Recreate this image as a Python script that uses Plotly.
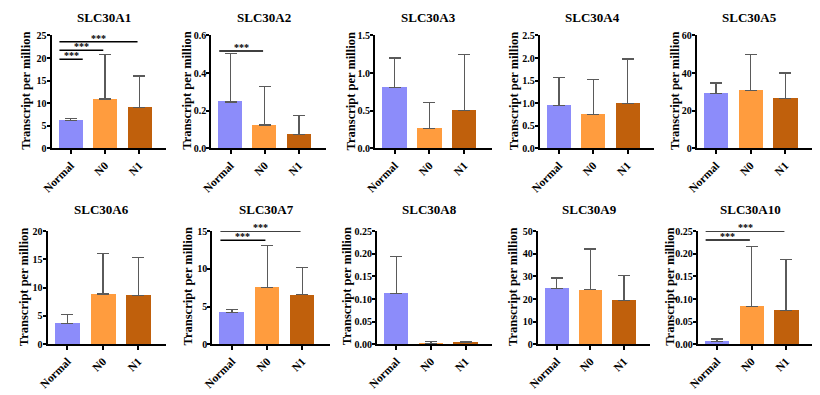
import plotly.graph_objects as go

# Page body has an 8px default margin; figure sized to fill the rest of the window
PAGE_OFF = 8
W, H = 820 - PAGE_OFF, 395 - PAGE_OFF

genes = ["SLC30A1", "SLC30A2", "SLC30A3", "SLC30A4", "SLC30A5",
         "SLC30A6", "SLC30A7", "SLC30A8", "SLC30A9", "SLC30A10"]
groups = ["Normal", "N0", "N1"]

means = [
    [6.2, 10.9, 9.1],
    [0.247, 0.124, 0.074],
    [0.81, 0.26, 0.50],
    [0.955, 0.75, 0.99],
    [29.1, 30.9, 26.6],
    [3.67, 8.9, 8.65],
    [4.2, 7.56, 6.57],
    [0.112, 0.0005, 0.0036],
    [24.7, 24.1, 19.3],
    [0.0057, 0.0838, 0.0745],
]
upper = [
    [6.6, 20.8, 16.0],
    [0.505, 0.329, 0.174],
    [1.20, 0.61, 1.25],
    [1.57, 1.52, 1.975],
    [34.7, 49.7, 40.0],
    [5.27, 16.05, 15.3],
    [4.64, 13.06, 10.18],
    [0.194, 0.0057, 0.0057],
    [29.3, 42.1, 30.4],
    [0.0115, 0.2156, 0.1877],
]
ymax = [25, 0.6, 1.5, 2.5, 60, 20, 15, 0.25, 50, 0.25]
ydtick = [5, 0.2, 0.5, 0.5, 20, 5, 5, 0.05, 10, 0.05]
yfmt = ["d", ".1f", ".1f", ".1f", "d", "d", "d", ".2f", "d", ".2f"]

# significance brackets: (panel index, end category index, y value, label)
sig_panel = [0, 0, 0, 1, 6, 6, 9, 9]
sig_end = [0, 1, 2, 1, 1, 2, 1, 2]
sig_y = [19.7, 21.7, 23.6, 0.517, 13.8, 15.0, 0.2307, 0.25]
sig_label = ["***"] * 8

colors = ["#8C8CFA", "#FF9C3E", "#C0600C"]

# layout positions (screen pixels)
x_left = [[41, 203, 369, 536, 695], [37, 204, 371, 534, 696]]
x_right = [[157, 319, 487, 652, 812], [157, 323, 488, 648, 813]]
row_top = [31, 232]
row_bot = [147, 348]
title_y = [13, 210]
ytitle_gap = [[26, 25, 25, 26, 22], [24.5, 25, 31, 25, 28]]

FONT = "Liberation Serif"


def px(v):
    return (v - PAGE_OFF) / W


def py(v):
    return 1 - (v - PAGE_OFF) / H


fig = go.Figure()
annotations = []
shapes = []
for i, g in enumerate(genes):
    r = i // 5
    c = i % 5
    xl = x_left[r][c]
    xr = x_right[r][c]
    xa = "x" if i == 0 else f"x{i+1}"
    ya = "y" if i == 0 else f"y{i+1}"
    xk = "xaxis" if i == 0 else f"xaxis{i+1}"
    yk = "yaxis" if i == 0 else f"yaxis{i+1}"
    err = [u - m for u, m in zip(upper[i], means[i])]
    fig.add_trace(go.Bar(
        x=[0, 1, 2], y=means[i], width=0.7,
        marker=dict(color=colors, line=dict(width=0)),
        error_y=dict(type="data", array=err, arrayminus=[0, 0, 0], symmetric=False,
                     color="#5A5A5A", thickness=1.3, width=6),
        xaxis=xa, yaxis=ya, showlegend=False,
    ))
    fig.layout[xk] = dict(
        domain=[px(xl), px(xr)], anchor=ya, range=[-0.56, 2.78],
        tickmode="array", tickvals=[0, 1, 2], ticktext=groups, tickangle=-45,
        showline=True, linecolor="black", linewidth=2, ticks="outside",
        ticklen=4, tickwidth=1.5, tickcolor="black", showgrid=False, zeroline=False,
        tickfont=dict(family=FONT, size=11.5, color="black", weight="bold"),
        fixedrange=True,
    )
    fig.layout[yk] = dict(
        domain=[py(row_bot[r]), py(row_top[r])], anchor=xa,
        range=[0, ymax[i]], dtick=ydtick[i], tick0=0, tickformat=yfmt[i],
        showline=True, linecolor="black", linewidth=2, ticks="outside",
        ticklen=3, tickwidth=1.5, tickcolor="black", showgrid=False, zeroline=False,
        ticklabelstandoff=-2,
        tickfont=dict(family=FONT, size=10, color="black", weight="bold"),
        fixedrange=True,
    )
    annotations.append(dict(
        text=g, xref="paper", yref="paper",
        x=px((xl + xr) / 2 - 5), y=py(title_y[r]),
        showarrow=False, xanchor="center", yanchor="middle",
        font=dict(family=FONT, size=13, color="black", weight="bold"),
    ))
    annotations.append(dict(
        text="Transcript per million", xref="paper", yref="paper",
        x=px(xl - ytitle_gap[r][c]), y=py((row_top[r] + row_bot[r]) / 2 - 1),
        showarrow=False, xanchor="center", yanchor="middle", textangle=-90,
        font=dict(family=FONT, size=12.5, color="black", weight="bold"),
    ))

for p, e, yv, lab in zip(sig_panel, sig_end, sig_y, sig_label):
    xa = "x" if p == 0 else f"x{p+1}"
    ya = "y" if p == 0 else f"y{p+1}"
    x0 = -0.33
    x1 = 0.35 if e == 0 else e - 0.05
    shapes.append(dict(type="line", xref=xa, yref=ya, x0=x0, x1=x1, y0=yv, y1=yv,
                       line=dict(color="black", width=1.5)))
    annotations.append(dict(text=lab, xref=xa, yref=ya, x=(x0 + x1) / 2, y=yv,
                            showarrow=False, yanchor="bottom", yshift=-4,
                            font=dict(family=FONT, size=10, color="black", weight="bold")))

fig.update_layout(
    width=W, height=H, margin=dict(l=0, r=0, t=0, b=0),
    paper_bgcolor="white", plot_bgcolor="white",
    annotations=annotations, shapes=shapes, bargap=0,
)
fig.write_html("out.html")
